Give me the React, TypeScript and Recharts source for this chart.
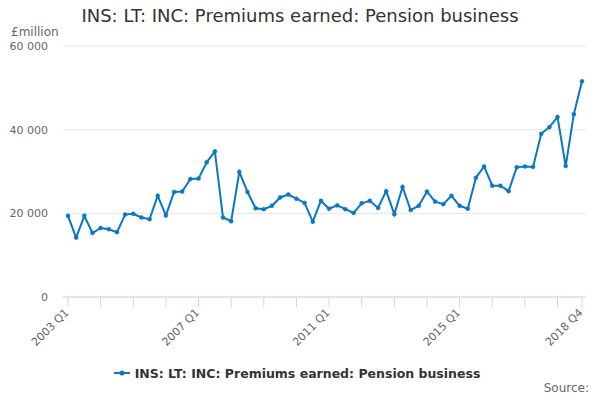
import { LineChart, Line, XAxis, YAxis, CartesianGrid, Legend } from 'recharts';

const years = [
  2003, 2004, 2005, 2006, 2007, 2008, 2009, 2010,
  2011, 2012, 2013, 2014, 2015, 2016, 2017, 2018,
];
const quarters = ['Q1', 'Q2', 'Q3', 'Q4'];

// £million, 2003 Q1 .. 2018 Q4
const premiums = [
  19400, 14200, 19400, 15300, 16500, 16200, 15500, 19700,
  19900, 19000, 18600, 24200, 19500, 25100, 25200, 28200,
  28300, 32200, 34800, 19000, 18100, 29900, 25100, 21200,
  21000, 21800, 23800, 24500, 23500, 22500, 18000, 23000,
  21100, 21900, 21000, 20100, 22400, 23000, 21300, 25300,
  19800, 26300, 20800, 21800, 25200, 22800, 22200, 24200,
  21800, 21100, 28500, 31200, 26600, 26600, 25300, 31000,
  31200, 31100, 39000, 40600, 43000, 31300, 43700, 51600,
];

const yTicks = [0, 20000, 40000, 60000];
const tickLabels = ['2003 Q1', '2007 Q1', '2011 Q1', '2015 Q1', '2018 Q4'];

const categories = years.flatMap((y) => quarters.map((q) => `${y} ${q}`));
const data = categories.map((quarter, i) => ({ quarter, value: premiums[i] }));
const xTicks = [...categories.filter((c) => c.endsWith('Q1')), '2018 Q4'];

const TITLE = 'INS: LT: INC: Premiums earned: Pension business';
const COLOR = '#0a77c2';
const FONT = '"DejaVu Sans", sans-serif';

const fmt = (v: number) => (v === 0 ? '0' : `${v / 1000} 000`);

const XTick = ({ x, y, payload }: any) => {
  if (!tickLabels.includes(payload.value)) return null;
  return (
    <g transform={`translate(${x},${y})`}>
      <text
        x={0}
        y={0}
        dy={4}
        dx={-2}
        textAnchor="end"
        fill="#666"
        fontSize={11}
        fontFamily={FONT}
        transform="rotate(-45)"
      >
        {payload.value}
      </text>
    </g>
  );
};

const LegendContent = () => (
  <div
    style={{
      display: 'flex',
      justifyContent: 'center',
      alignItems: 'center',
      fontFamily: FONT,
      fontSize: 12.5,
      fontWeight: 'bold',
      color: '#333',
      height: 20,
    }}
  >
    <svg width={16} height={10} style={{ marginRight: 5 }}>
      <line x1={0} y1={5} x2={16} y2={5} stroke={COLOR} strokeWidth={2} />
      <circle cx={8} cy={5} r={2.5} fill={COLOR} />
    </svg>
    <span>{TITLE}</span>
  </div>
);

const App = () => (
  <div style={{ position: 'absolute', left: 0, top: 0, width: 600, height: 400, fontFamily: FONT }}>
    <div
      style={{
        position: 'absolute',
        top: 5,
        left: 0,
        width: 600,
        textAlign: 'center',
        fontSize: 18,
        color: '#333',
      }}
    >
      {TITLE}
    </div>
    <div style={{ position: 'absolute', top: 25, left: 11, fontSize: 12, color: '#666' }}>£million</div>
    <LineChart
      width={600}
      height={400}
      data={data}
      margin={{ top: 46, right: 14, left: 8, bottom: 17 }}
    >
      <CartesianGrid vertical={false} stroke="#e6e6e6" />
      <XAxis
        dataKey="quarter"
        ticks={xTicks}
        interval={0}
        tick={<XTick />}
        tickSize={10}
        tickLine={{ stroke: '#ccd6eb' }}
        axisLine={{ stroke: '#ccd6eb' }}
        padding={{ left: 5, right: 4 }}
        height={66}
      />
      <YAxis
        domain={[0, 60000]}
        ticks={yTicks}
        tickFormatter={fmt}
        axisLine={false}
        tickLine={false}
        tickSize={0}
        tickMargin={15}
        width={55}
        tick={{ fill: '#666', fontSize: 11, fontFamily: FONT }}
      />
      <Legend verticalAlign="bottom" content={<LegendContent />} />
      <Line
        dataKey="value"
        name={TITLE}
        stroke={COLOR}
        strokeWidth={2}
        dot={{ r: 2, fill: COLOR, stroke: COLOR, strokeWidth: 0.5 }}
        isAnimationActive={false}
      />
    </LineChart>
    <div style={{ position: 'absolute', right: 11, top: 381, fontSize: 12, color: '#666' }}>Source:</div>
  </div>
);

export default App;
